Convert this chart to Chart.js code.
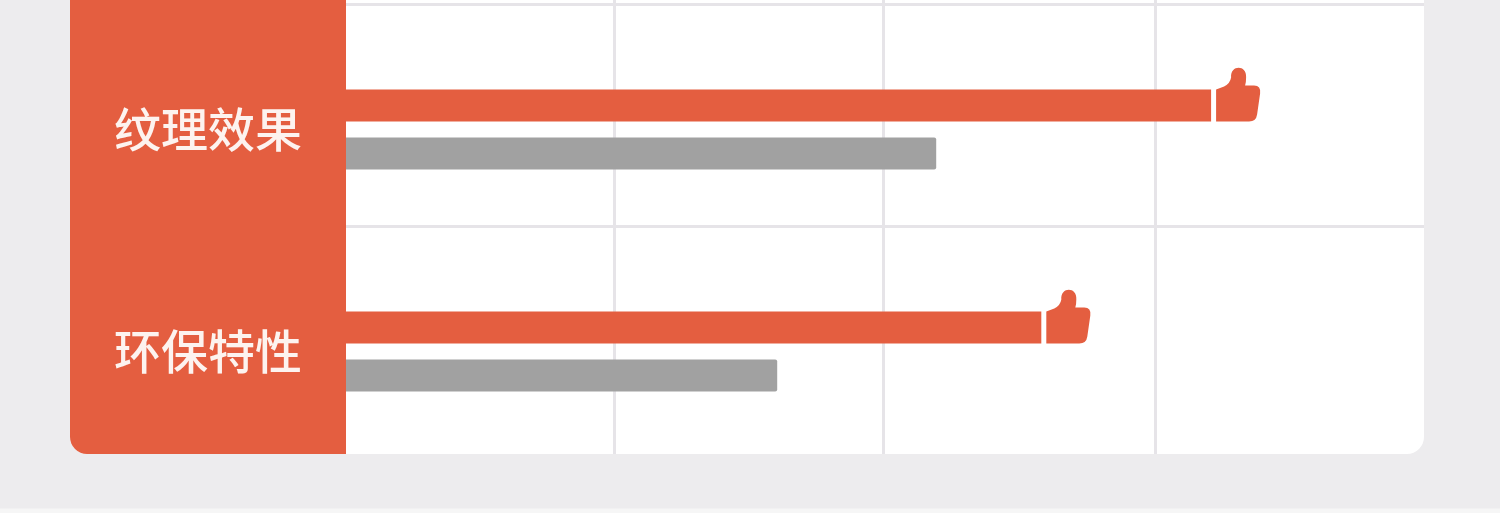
<!DOCTYPE html>
<html>
<head>
<meta charset="utf-8">
<script src="https://cdn.jsdelivr.net/npm/chart.js@4"></script>
<style>
  html, body { margin: 0; padding: 0; overflow: hidden; }
  body {
    width: 1500px; height: 513px;
    background: linear-gradient(#edecee 0, #edecee 508px, #f6f6f6 509px);
  }
  canvas { display: block; }
</style>
</head>
<body>
<canvas id="chart" width="1500" height="513"></canvas>
<script>
/* ================== DATA ================== */
const categories = ["纹理效果", "环保特性"];
const orangeValues = [3.21, 2.58];
const grayValues = [2.19, 1.6];
const xGridTicks = [0.995, 1.995, 3.005];
const yGridTicks = [-0.561, 0.437];

/* ================== STYLE ================== */
const ORANGE = "#e45e40";
const GRAY = "#a1a1a1";
const GRID = "#e6e4e8";
const Y_MIN = -0.583;
const Y_MAX = 1.462;

const toPoints = values => values.map((v, i) => ({ x: v, y: i }));

// axis labels must not push the plot area in
function noPadding(s) {
  s.paddingTop = 0;
  s.paddingBottom = 0;
  s.paddingLeft = 0;
  s.paddingRight = 0;
}

/* ================== PANEL ================== */
const panelPlugin = {
  id: "panel",
  beforeDraw(chart) {
    const { ctx, chartArea: a } = chart;
    ctx.save();
    ctx.fillStyle = "#ffffff";
    ctx.beginPath();
    ctx.roundRect(70, -30, a.right - 70, a.bottom + 30, 17);
    ctx.fill();
    ctx.fillStyle = ORANGE;
    ctx.beginPath();
    ctx.roundRect(70, -30, a.left - 70, a.bottom + 30, [17, 0, 0, 17]);
    ctx.fill();
    ctx.restore();
  }
};

/* ================== THUMB ICON ================== */
const thumbPlugin = {
  id: "thumb",
  afterDatasetsDraw(chart) {
    const { ctx } = chart;
    chart.getDatasetMeta(0).data.forEach(bar => {
      const x = bar.x;
      const y = bar.y;
      ctx.save();
      ctx.fillStyle = ORANGE;
      ctx.beginPath();
      ctx.moveTo(x + 5, y - 16);
      ctx.lineTo(x + 13, y - 19);
      ctx.quadraticCurveTo(x + 19, y - 22, x + 20, y - 28);
      ctx.bezierCurveTo(x + 19, y - 41, x + 36, y - 41, x + 35, y - 28);
      ctx.quadraticCurveTo(x + 35, y - 23, x + 34, y - 20);
      ctx.lineTo(x + 43, y - 20);
      ctx.quadraticCurveTo(x + 50, y - 20, x + 49, y - 12);
      ctx.lineTo(x + 46, y + 9);
      ctx.quadraticCurveTo(x + 45, y + 16, x + 38, y + 16);
      ctx.lineTo(x + 5, y + 16);
      ctx.closePath();
      ctx.fill();
      ctx.restore();
    });
  }
};

/* ================== CHART ================== */
new Chart(document.getElementById("chart"), {
  type: "bar",
  data: {
    datasets: [
      { data: toPoints(orangeValues), backgroundColor: ORANGE },
      { data: toPoints(grayValues), backgroundColor: GRAY, borderRadius: 2 }
    ]
  },
  options: {
    indexAxis: "y",
    responsive: false,
    animation: false,
    categoryPercentage: 0.4324,
    barPercentage: 0.667,
    layout: { padding: { top: 0, right: 76, bottom: 59, left: 0 } },
    plugins: { legend: { display: false }, tooltip: { enabled: false } },
    scales: {
      x: {
        type: "linear",
        min: 0,
        max: 4,
        border: { display: false },
        grid: { color: GRID, lineWidth: 3, drawTicks: false },
        ticks: { display: false },
        afterBuildTicks: s => { s.ticks = xGridTicks.map(value => ({ value })); },
        afterFit: s => { s.height = 0; noPadding(s); }
      },
      y: {
        type: "linear",
        reverse: true,
        offset: false,
        min: Y_MIN,
        max: Y_MAX,
        border: { display: false },
        grid: { display: false, offset: false, drawTicks: false },
        ticks: {
          color: "#fdf3ef",
          padding: 44,
          autoSkip: false,
          font: { family: "'Noto Sans CJK SC'", size: 47, weight: "500" },
          callback: value => categories[value]
        },
        afterBuildTicks: s => { s.ticks = categories.map((_, value) => ({ value })); },
        afterFit: s => { s.width = 346; noPadding(s); }
      },
      yGrid: {
        type: "linear",
        axis: "y",
        position: "left",
        reverse: true,
        offset: false,
        min: Y_MIN,
        max: Y_MAX,
        border: { display: false },
        grid: { color: GRID, lineWidth: 3, drawTicks: false, offset: false },
        ticks: { display: false },
        afterBuildTicks: s => { s.ticks = yGridTicks.map(value => ({ value })); },
        afterFit: s => { s.width = 0; noPadding(s); }
      }
    }
  },
  plugins: [panelPlugin, thumbPlugin]
});
</script>
</body>
</html>
